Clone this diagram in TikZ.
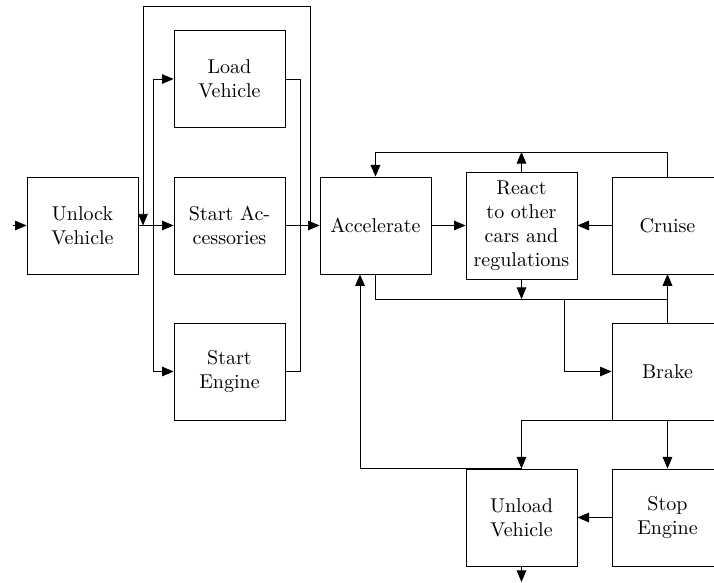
\documentclass[tikz,border=0pt]{standalone}
\usetikzlibrary{arrows.meta}
\begin{document}
\begin{tikzpicture}[x=0.5pt,y=-0.5pt,
  box/.style={draw,line width=0.4pt,minimum width=55.5pt,minimum height=48.5pt,inner sep=0pt,align=center},
  tallbox/.style={box,minimum height=53.5pt},
  arr/.style={-{Triangle[length=5.8pt,width=4.8pt]}},
  every path/.style={line width=0.4pt}]
\useasboundingbox (0,0) rectangle (714,583);
% nodes
\node[box] (unlock) at (82.5,225.5) {Unlock\\Vehicle};
\node[box] (load) at (229.5,79) {Load\\Vehicle};
\node[box] (accs) at (229.5,225.5) {Start Ac-\\cessories};
\node[box] (engine) at (229.5,371.5) {Start\\Engine};
\node[box] (accel) at (375.5,225.5) {Accelerate};
\node[tallbox] (react) at (521.5,225.5) {React\\to other\\cars and\\regulations};
\node[box] (cruise) at (667.5,225.5) {Cruise};
\node[box] (brake) at (667.5,371.5) {Brake};
\node[box] (unload) at (521.5,517.5) {Unload\\Vehicle};
\node[box] (stop) at (667.5,517.5) {Stop\\Engine};
% helper coordinates
\coordinate (in) at (13,225.5);
\coordinate (f1) at (153,225.5);
\coordinate (f2) at (143,225.5);
\coordinate (m1) at (300,225.5);
\coordinate (m2) at (310,225.5);
\coordinate (topline) at (0,6);
\coordinate (tl) at (0,152);
\coordinate (bl) at (0,299);
\coordinate (b1) at (564,299);
\coordinate (c3) at (360,0);
\coordinate (out) at (521.5,582);
% connectors
\draw[arr] (in) -- (unlock);
\draw[arr] (unlock) -- (accs);
\draw[arr] (f1) |- (load);
\draw[arr] (f1) |- (engine);
\draw (load.east) -| (m1);
\draw (engine.east) -| (m1);
\draw[arr] (accs) -- (accel);
\draw[arr] (m2) -- (m2 |- topline) -| (f2);
\draw[arr] (accel) -- (react);
\draw[arr] (cruise) -- (react);
\draw[arr] (cruise.north) -- (cruise.north |- tl) -| (accel.north);
\draw[arr] (react.north) -- (react.north |- tl);
\draw[arr] (accel.south) -- (accel.south |- bl) -| (cruise.south);
\draw[arr] (react.south) -- (react.south |- bl);
\draw[arr] (brake.north) -- (cruise.south);
\draw[arr] (b1) |- (brake.west);
\draw[arr] (brake.south) -- (stop.north);
\draw[arr] (brake.south) -| (unload.north);
\draw[arr] (stop) -- (unload);
\draw[arr] (unload.north) -| (c3 |- accel.south);
\draw[arr] (unload) -- (out);
\end{tikzpicture}
\end{document}
